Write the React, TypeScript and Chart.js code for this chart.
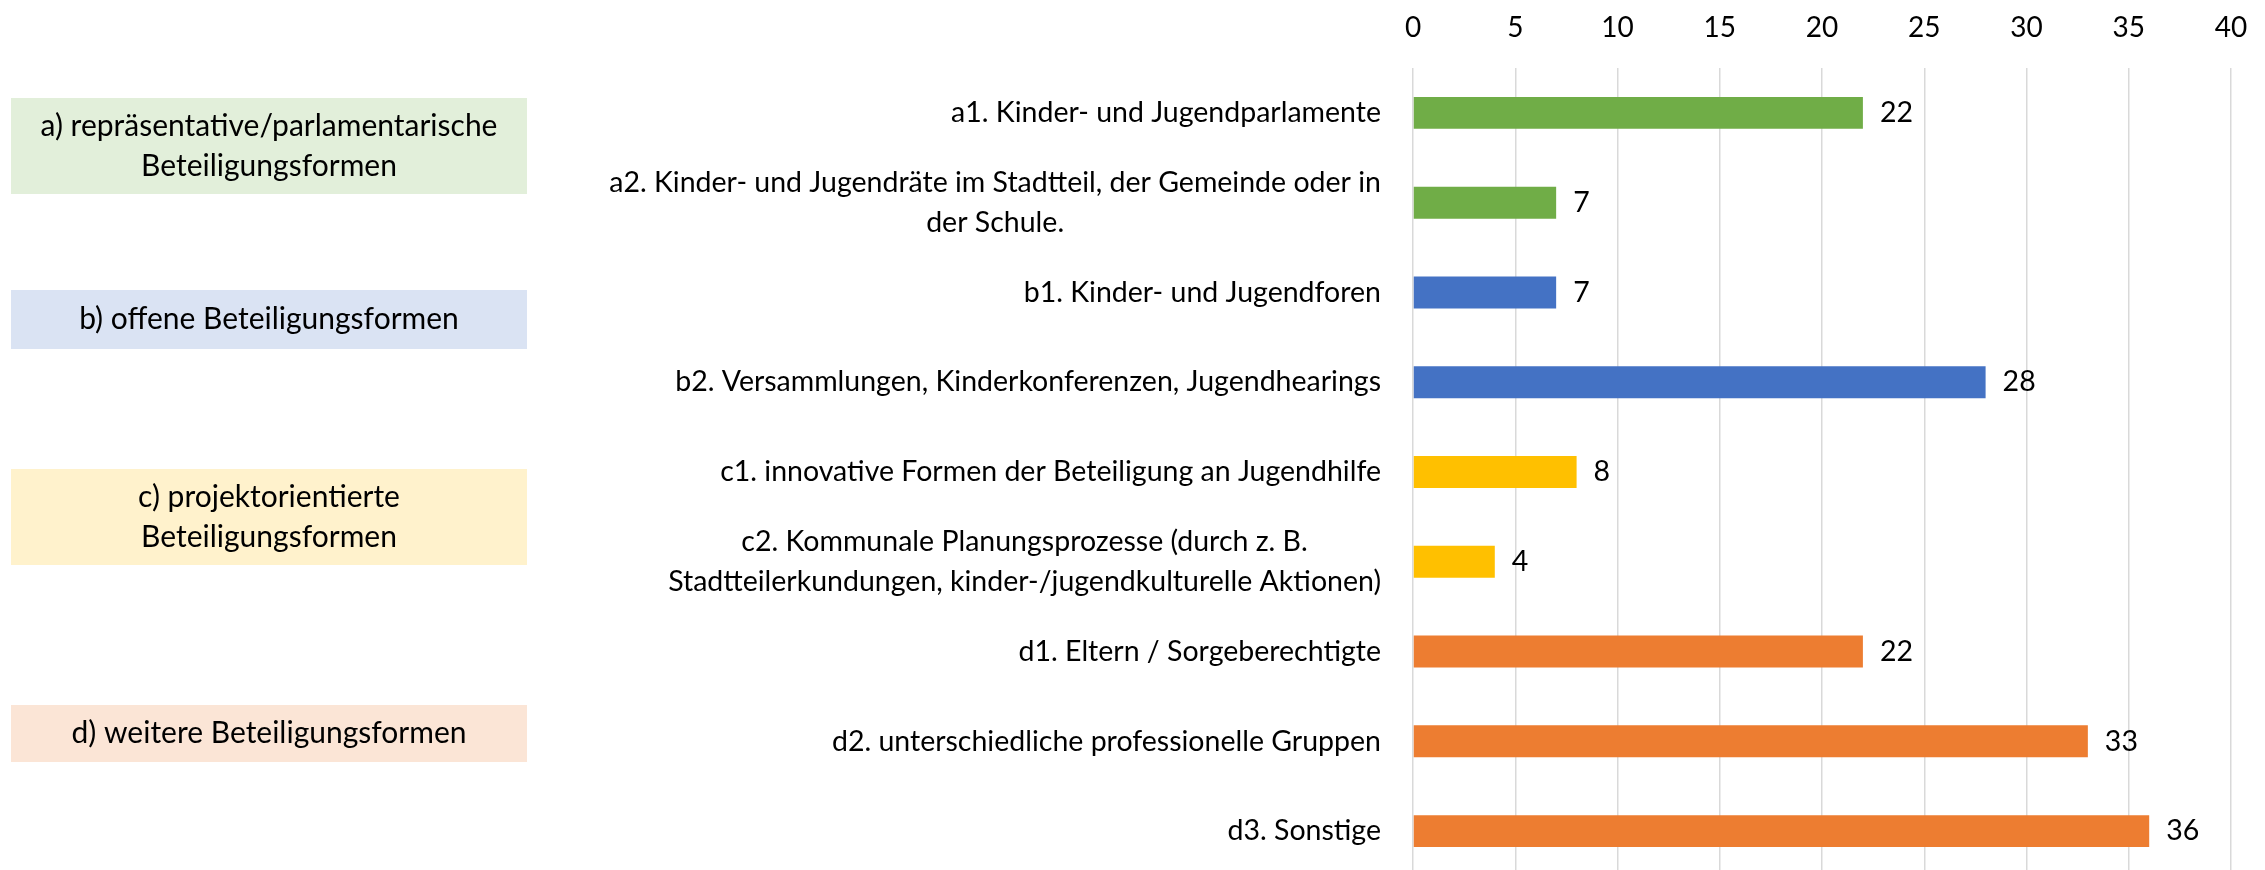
import React, { useEffect, useRef } from "react";
import { Chart, registerables } from "chart.js";

Chart.register(...registerables);

// ---------- data ----------
const categoryLabels: string[][] = [
  ["a1. Kinder- und Jugendparlamente"],
  ["a2. Kinder- und Jugendräte im Stadtteil, der Gemeinde oder in", "der Schule."],
  ["b1. Kinder- und Jugendforen"],
  ["b2. Versammlungen, Kinderkonferenzen, Jugendhearings"],
  ["c1. innovative Formen der Beteiligung an Jugendhilfe"],
  ["c2. Kommunale Planungsprozesse (durch z. B.", "Stadtteilerkundungen, kinder-/jugendkulturelle Aktionen)"],
  ["d1. Eltern / Sorgeberechtigte"],
  ["d2. unterschiedliche professionelle Gruppen"],
  ["d3. Sonstige"],
];
const values: number[] = [22, 7, 7, 28, 8, 4, 22, 33, 36];
const categoryGroups: string[] = ["a", "a", "b", "b", "c", "c", "d", "d", "d"];
const groupNames: string[] = ["a", "b", "c", "d"];
const groupTitles: string[][] = [
  ["a) repräsentative/parlamentarische", "Beteiligungsformen"],
  ["b) offene Beteiligungsformen"],
  ["c) projektorientierte", "Beteiligungsformen"],
  ["d) weitere Beteiligungsformen"],
];
const axisMin = 0;
const axisMax = 40;
const axisStep = 5;

// ---------- styles ----------
const FONT = "Lato, 'Open Sans', 'Noto Sans', sans-serif";
const LABEL_SIZE = 28.5;
const BOX_SIZE = 30;
const TICK_SIZE = 28;
const barColors: Record<string, string> = {
  a: "#70AD47",
  b: "#4472C4",
  c: "#FFC000",
  d: "#ED7D31",
};
const boxColors: Record<string, string> = {
  a: "#E2EFDA",
  b: "#DAE3F3",
  c: "#FFF2CC",
  d: "#FBE5D6",
};
// group box layout (pixels)
const boxLayout: Record<string, { x: number; y: number; w: number; h: number }> = {
  a: { x: 11, y: 98, w: 516, h: 96 },
  b: { x: 11, y: 290, w: 516, h: 59 },
  c: { x: 11, y: 469, w: 516, h: 96 },
  d: { x: 11, y: 705, w: 516, h: 57 },
};

const tickLabelPlugin = {
  id: "tickLabelPlugin",
  afterDraw(chart: any) {
    const ctx = chart.ctx;
    const xScale = chart.scales.x;
    ctx.save();
    ctx.font = `${TICK_SIZE}px ${FONT}`;
    ctx.fillStyle = "#000000";
    ctx.textBaseline = "middle";
    ctx.textAlign = "center";
    xScale.ticks.forEach((t: any) => {
      ctx.fillText(String(t.value), xScale.getPixelForValue(t.value), 28);
    });
    ctx.restore();
  },
};

const categoryLabelPlugin = {
  id: "categoryLabelPlugin",
  afterDraw(chart: any) {
    const ctx = chart.ctx;
    const yScale = chart.scales.y;
    const right = chart.chartArea.left - 32;
    const lineH = 40;
    ctx.save();
    ctx.font = `${LABEL_SIZE}px ${FONT}`;
    ctx.fillStyle = "#000000";
    ctx.textBaseline = "middle";
    ctx.textAlign = "center";
    categoryLabels.forEach((lines, i) => {
      const yc = yScale.getPixelForValue(i);
      const maxW = Math.max(...lines.map((l) => ctx.measureText(l).width));
      const cx = right - maxW / 2;
      lines.forEach((l, j) => {
        const y = yc + (j - (lines.length - 1) / 2) * lineH;
        ctx.fillText(l, cx, y);
      });
    });
    ctx.restore();
  },
};

const valueLabelPlugin = {
  id: "valueLabelPlugin",
  afterDatasetsDraw(chart: any) {
    const ctx = chart.ctx;
    const meta = chart.getDatasetMeta(0);
    ctx.save();
    ctx.font = `${LABEL_SIZE}px ${FONT}`;
    ctx.fillStyle = "#000000";
    ctx.textBaseline = "middle";
    ctx.textAlign = "left";
    meta.data.forEach((el: any, i: number) => {
      ctx.fillText(String(values[i]), el.x + 17, el.y);
    });
    ctx.restore();
  },
};

const groupBoxPlugin = {
  id: "groupBoxPlugin",
  afterDraw(chart: any) {
    const ctx = chart.ctx;
    const lineH = 40;
    ctx.save();
    ctx.font = `${BOX_SIZE}px ${FONT}`;
    ctx.textBaseline = "middle";
    ctx.textAlign = "center";
    groupNames.forEach((g, gi) => {
      const b = boxLayout[g];
      ctx.fillStyle = boxColors[g];
      ctx.fillRect(b.x, b.y, b.w, b.h);
      ctx.fillStyle = "#000000";
      const lines = groupTitles[gi];
      const cx = b.x + b.w / 2;
      const cy = b.y + b.h / 2;
      lines.forEach((l, j) => {
        ctx.fillText(l, cx, cy + (j - (lines.length - 1) / 2) * lineH);
      });
    });
    ctx.restore();
  },
};

export default function App() {
  const canvasRef = useRef<HTMLCanvasElement | null>(null);

  useEffect(() => {
    document.body.style.margin = "0";
    const canvas = canvasRef.current;
    if (!canvas) return;
    const chart = new Chart(canvas, {
      type: "bar",
      data: {
        labels: categoryLabels.map((l) => l.join(" ")),
        datasets: [
          {
            data: values,
            backgroundColor: categoryGroups.map((g) => barColors[g]),
            borderWidth: 0,
            barPercentage: 0.356,
            categoryPercentage: 1,
          },
        ],
      },
      options: {
        indexAxis: "y",
        responsive: false,
        maintainAspectRatio: false,
        devicePixelRatio: 1,
        animation: false,
        layout: { padding: { left: 1413, right: 34, top: 68, bottom: 0 } },
        plugins: {
          legend: { display: false },
          tooltip: { enabled: false },
        },
        scales: {
          x: {
            type: "linear",
            position: "top",
            min: axisMin,
            max: axisMax,
            ticks: {
              stepSize: axisStep,
              display: false,
            },
            grid: {
              color: "#D9D9D9",
              lineWidth: 1.5,
              drawTicks: false,
            },
            border: { display: false },
          },
          y: {
            type: "category",
            display: false,
            grid: { display: false },
          },
        },
      },
      plugins: [groupBoxPlugin, categoryLabelPlugin, valueLabelPlugin, tickLabelPlugin],
    });
    return () => chart.destroy();
  }, []);

  return (
    <div
      style={{
        position: "fixed",
        left: 0,
        top: 0,
        width: 2265,
        height: 870,
        overflow: "hidden",
        background: "#ffffff",
      }}
    >
      <canvas ref={canvasRef} width={2265} height={876} style={{ display: "block" }} />
    </div>
  );
}
